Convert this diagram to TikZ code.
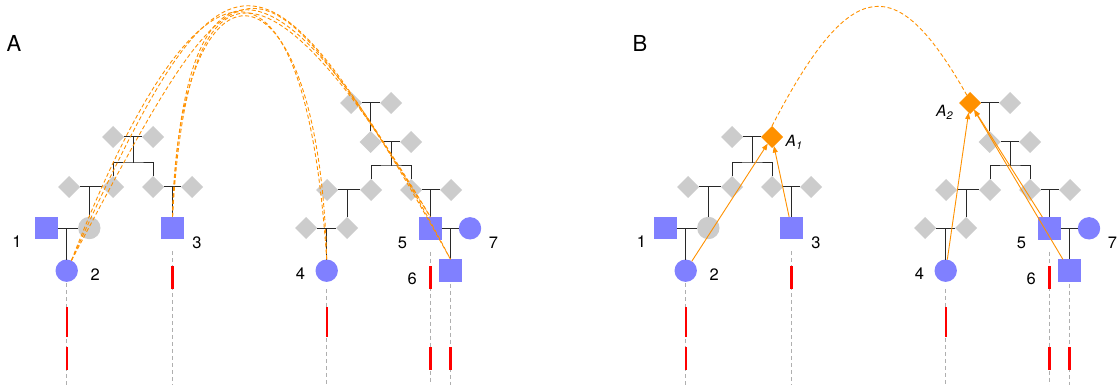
\documentclass[tikz,border=0pt]{standalone}
\usepackage{fontspec}
\setmainfont{TeX Gyre Heros}
\usetikzlibrary{shapes.geometric,arrows.meta}

\definecolor{pblue}{RGB}{128,128,255}
\definecolor{pgrey}{RGB}{204,204,204}
\definecolor{porange}{RGB}{255,145,0}
\definecolor{kinc}{RGB}{40,40,40}
\definecolor{trackc}{RGB}{175,175,175}

\tikzset{
  person/.style={inner sep=0pt, outer sep=0pt, draw=none, minimum size=22.4pt},
  male/.style={person, rectangle, fill=pblue},
  female/.style={person, circle, fill=pblue},
  ghostf/.style={person, circle, fill=pgrey},
  unknown/.style={person, diamond, fill=pgrey, minimum size=22pt},
  founderA/.style={unknown},
  founderB/.style={unknown},
  kin/.style={draw=kinc, line width=1pt},
  track/.style={draw=trackc, line width=0.8pt, dash pattern=on 4pt off 3pt},
  seg/.style={draw=red, line width=2.2pt},
  numlab/.style={font=\fontsize{16.5}{18}\selectfont, inner sep=0pt},
  anclab/.style={font=\fontsize{15.5}{17}\selectfont, inner sep=0pt},
  panellab/.style={font=\fontsize{22}{24}\selectfont, inner sep=0pt},
  ibd/.style={draw=porange, line width=0.9pt, dash pattern=on 4pt off 2.5pt},
  toanc/.style={draw=porange, line width=0.9pt, -{Triangle[length=6.5pt,width=5pt]}},
}

% One panel: two families with their genotype tracks; #1 = x of label "1"
\newcommand\pedigree[1]{%
  \coordinate (bot) at (0,386);
  \coordinate (ra0) at (0,266); \coordinate (ra1) at (0,289);
  \coordinate (rb0) at (0,307); \coordinate (rb1) at (0,337);
  \coordinate (rc0) at (0,347); \coordinate (rc1) at (0,370);
  % left family
  \node[unknown]  (da1) at (113,137) {};
  \node[founderA] (da2) at (153,137) {};
  \node[unknown]  (db1) at (69,187) {};
  \node[unknown]  (db2) at (113,187) {};
  \node[unknown]  (db3) at (153,187) {};
  \node[unknown]  (db4) at (192,187) {};
  \node[male]     (n1)  at (46.3,228) {};
  \node[ghostf]   (gc)  at (89.3,228) {};
  \node[female]   (n2)  at (66.7,270.7) {};
  \node[male]     (n3)  at (172.5,228) {};
  \coordinate (ma) at (133,137);
  \coordinate (sa) at (133,163);
  \draw[kin] (da1) -- (da2);
  \draw[kin] (ma) -- (sa);
  \draw[kin] (db2.north) |- (sa) -| (db3.north);
  \draw[kin] (db1) -- (db2);
  \draw[kin] (db3) -- (db4);
  \draw[kin] (gc.north) -- (gc.north |- db1);
  \draw[kin] (n3.north) -- (n3.north |- db3);
  \draw[kin] (n1) -- (gc);
  \draw[kin] (n2.north) -- (n2.north |- n1);
  % right family
  \node[founderB] (ea1) at (351,103) {};
  \node[unknown]  (ea2) at (391,103) {};
  \node[unknown]  (eb1) at (370.5,142) {};
  \node[unknown]  (eb2) at (411,142) {};
  \node[unknown]  (ec1) at (327,190) {};
  \node[unknown]  (ec2) at (371,190) {};
  \node[unknown]  (ec3) at (411,190) {};
  \node[unknown]  (ec4) at (451,190) {};
  \node[unknown]  (ed1) at (306,228) {};
  \node[unknown]  (ed2) at (347,228) {};
  \node[female]   (n4)  at (326.7,270.7) {};
  \node[male]     (n5)  at (430.5,228.3) {};
  \node[female]   (n7)  at (470,228.3) {};
  \node[male]     (n6)  at (450.5,270.5) {};
  \coordinate (mb) at (391,142);
  \coordinate (sb) at (391,166);
  \draw[kin] (ea1) -- (ea2);
  \draw[kin] (eb1.north) -- (eb1.north |- ea1);
  \draw[kin] (eb1) -- (eb2);
  \draw[kin] (mb) -- (sb);
  \draw[kin] (ec2.north) |- (sb) -| (ec3.north);
  \draw[kin] (ec1) -- (ec2);
  \draw[kin] (ec3) -- (ec4);
  \draw[kin] (ed2.north) -- (ed2.north |- ec1);
  \draw[kin] (n5.north) -- (n5.north |- ec3);
  \draw[kin] (ed1) -- (ed2);
  \draw[kin] (n4.north) -- (n4.north |- ed1);
  \draw[kin] (n5) -- (n7);
  \draw[kin] (n6.north) -- (n6.north |- n5);
  % genotype tracks
  \draw[track] ([yshift=-1.5pt]n2.south) -- (n2.south |- bot);
  \draw[track] ([yshift=-12pt]n3.south) -- (n3.south |- bot);
  \draw[track] ([yshift=-7pt]n4.south) -- (n4.south |- bot);
  \draw[track] ([yshift=-12pt]n5.south) -- (n5.south |- bot);
  \draw[track] ([yshift=-2pt]n6.south) -- (n6.south |- bot);
  \draw[seg] (n2 |- rb0) -- (n2 |- rb1);
  \draw[seg] (n2 |- rc0) -- (n2 |- rc1);
  \draw[seg] (n3 |- ra0) -- (n3 |- ra1);
  \draw[seg] (n4 |- rb0) -- (n4 |- rb1);
  \draw[seg] (n5 |- ra0) -- (n5 |- ra1);
  \draw[seg] (n5 |- rc0) -- (n5 |- rc1);
  \draw[seg] (n6 |- rc0) -- (n6 |- rc1);
  % individual numbers
  \node[numlab] (l1) at (#1,242) {1};
  \node[numlab] (l2) at (95.3,275) {2};
  \node[numlab] (l3) at (197,243) {3};
  \node[numlab] (l4) at (300.5,273.5) {4};
  \node[numlab] (l5) at (402.5,242.5) {5};
  \node[numlab] (l6) at (412.3,278.5) {6};
  \node[numlab] (l7) at (493.5,242.5) {7};
}

\begin{document}
\begin{tikzpicture}[x=1pt, y=-1pt]
  \useasboundingbox (0,0) rectangle (1117,385);

  \node[panellab] (pA) at (14,43) {A};
  \node[panellab] (pB) at (640,43) {B};

  \begin{scope}[name prefix=a-]
    \pedigree{17}
  \end{scope}

  \begin{scope}[shift={(619,0)}, name prefix=b-,
      founderA/.style={unknown, fill=porange},
      founderB/.style={unknown, fill=porange}]
    \pedigree{22.5}
  \end{scope}

  % pairwise shared segments between the two families
  \draw[ibd] (a-n2.65)    .. controls (200,-71) and (305,-71) .. (a-n4.north);
  \draw[ibd] (a-n2.65)    .. controls (245,-68) and (250,-68) .. (a-n5.north);
  \draw[ibd] (a-n2.65)    .. controls (225,-79) and (262,-79) .. (a-n6.north);
  \draw[ibd] (a-n3.north) .. controls (178,-58) and (318,-58) .. (a-n4.north);
  \draw[ibd] (a-n3.north) .. controls (188,-55) and (268,-55) .. (a-n5.north);
  \draw[ibd] (a-n3.north) .. controls (183,-66) and (280,-66) .. (a-n6.north);

  % common ancestors and their shared segment
  \node[anclab, anchor=base west] (lA1) at (785.5,146.7) {\textit{A}\textsubscript{\textit{1}}};
  \node[anclab, anchor=base west] (lA2) at (936,116.7) {\textit{A}\textsubscript{\textit{2}}};
  \draw[ibd] (b-da2.north) .. controls (852,-28) and (897,-28) .. (b-ea1.112);
  \draw[toanc] (b-n2) -- (b-da2);
  \draw[toanc] (b-n3) -- (b-da2);
  \draw[toanc] (b-n4) -- (b-ea1);
  \draw[toanc] (b-n5) -- (b-ea1);
  \draw[toanc] (b-n6) -- (b-ea1);
\end{tikzpicture}
\end{document}
